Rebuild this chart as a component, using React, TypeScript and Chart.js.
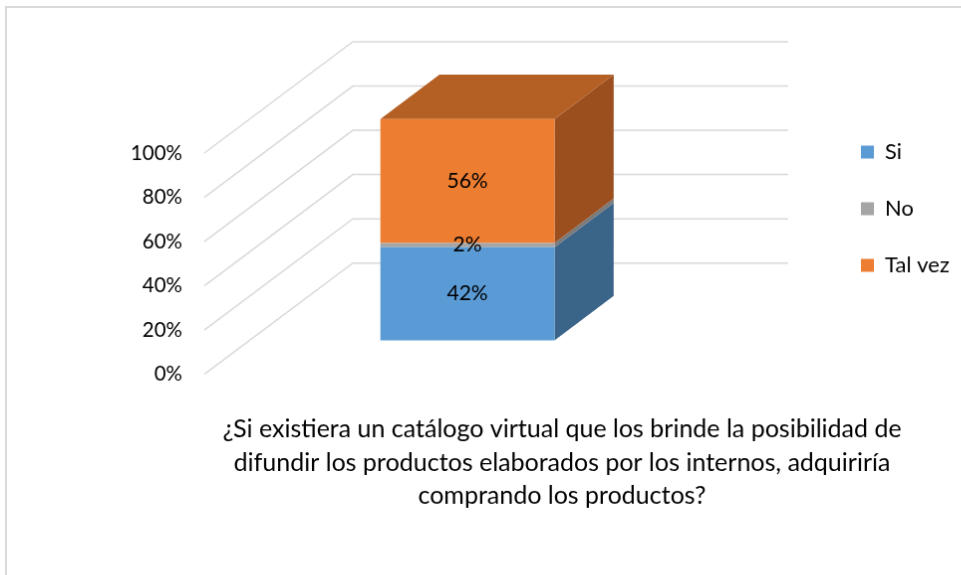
import React, { useEffect, useRef } from "react";
import { Chart, registerables } from "chart.js";

Chart.register(...registerables);

// ---- data ----
const categories = ["Adquiriría"];
const seriesNames = ["Si", "No", "Tal vez"];
const siValues = [42];
const noValues = [2];
const talVezValues = [56];
const yTickValues = [0, 20, 40, 60, 80, 100];
const titleLines = [
  "¿Si existiera un catálogo virtual que los brinde la posibilidad de",
  "difundir los productos elaborados por los internos, adquiriría",
  "comprando los productos?",
];

// ---- style ----
const FONT = "Lato";
const FRONT = ["#5B9BD5", "#A5A5A5", "#ED7D31"];
const SIDE = ["#3B6489", "#7A7A7A", "#9B4F1E"];
const TOP_FACE = "#B45F24";
const GRID = "#D9D9D9";
const DEPTH_X = 149;
const DEPTH_Y = -112;
const BAR_OFF_X = 45.6;
const BAR_OFF_Y = -34.3;
const BAR_DX = 59.3;
const BAR_DY = -44.6;
const CANVAS_W = 1114;
const CANVAS_H = 620;
const PLOT_TOP = 146;
const PLOT_BOTTOM = 368.7;
const LEGEND_X = 857;
const LEGEND_Y = 134;
const LEGEND_FONT = 22;
const TITLE_SIZE = 25;
const TITLE_LINE = 33.5;
const TITLE_FIRST_Y = 424;
const TITLE_PAD_TOP = TITLE_FIRST_Y - PLOT_BOTTOM - TITLE_LINE / 2;
const TITLE_PAD_BOTTOM = CANVAS_H - PLOT_BOTTOM - TITLE_PAD_TOP - 3 * TITLE_LINE;

const threeD = {
  id: "threeD",
  afterLayout(chart: any) {
    const lg = chart.legend;
    if (!lg) return;
    const pad = lg.options.labels.padding;
    lg.left = LEGEND_X - pad;
    lg.width = 220;
    lg.right = lg.left + 220;
    lg.top = LEGEND_Y - pad;
    lg.height = 320;
    lg.bottom = lg.top + 320;
  },
  beforeDatasetsDraw(chart: any) {
    const { ctx, chartArea } = chart;
    const y = chart.scales.y;
    ctx.save();
    ctx.strokeStyle = GRID;
    ctx.lineWidth = 1.5;
    y.ticks.forEach((t: any) => {
      const py = y.getPixelForValue(t.value);
      ctx.beginPath();
      ctx.moveTo(chartArea.left, py);
      ctx.lineTo(chartArea.left + DEPTH_X, py + DEPTH_Y);
      ctx.lineTo(chartArea.right + DEPTH_X, py + DEPTH_Y);
      ctx.stroke();
    });
    ctx.restore();

    ctx.save();
    ctx.translate(BAR_OFF_X, BAR_OFF_Y);
    const n = chart.data.datasets.length;
    for (let i = 0; i < n; i++) {
      const meta = chart.getDatasetMeta(i);
      meta.data.forEach((el: any) => {
        const { x, y: top, base, width } = el.getProps(["x", "y", "base", "width"], true);
        const r = x + width / 2;
        const l = x - width / 2;
        ctx.fillStyle = SIDE[i];
        ctx.beginPath();
        ctx.moveTo(r, top);
        ctx.lineTo(r + BAR_DX, top + BAR_DY);
        ctx.lineTo(r + BAR_DX, base + BAR_DY);
        ctx.lineTo(r, base);
        ctx.closePath();
        ctx.fill();
        if (i === n - 1) {
          ctx.fillStyle = TOP_FACE;
          ctx.beginPath();
          ctx.moveTo(l, top);
          ctx.lineTo(l + BAR_DX, top + BAR_DY);
          ctx.lineTo(r + BAR_DX, top + BAR_DY);
          ctx.lineTo(r, top);
          ctx.closePath();
          ctx.fill();
        }
      });
    }
  },
  afterDatasetsDraw(chart: any) {
    const { ctx } = chart;
    ctx.fillStyle = "#000";
    ctx.font = `21px ${FONT}`;
    ctx.textAlign = "center";
    ctx.textBaseline = "middle";
    chart.data.datasets.forEach((ds: any, i: number) => {
      const meta = chart.getDatasetMeta(i);
      meta.data.forEach((el: any, j: number) => {
        const { x, y: top, base } = el.getProps(["x", "y", "base"], true);
        ctx.fillText(`${ds.data[j]}%`, x, (top + base) / 2);
      });
    });
    ctx.restore();
  },
};

export default function App() {
  const ref = useRef<HTMLCanvasElement>(null);
  useEffect(() => {
    if (!ref.current) return;
    const series = [siValues, noValues, talVezValues];
    const chart = new Chart(ref.current, {
      type: "bar",
      data: {
        labels: categories,
        datasets: series.map((vals, i) => ({
          label: seriesNames[i],
          data: vals,
          backgroundColor: FRONT[i],
          borderWidth: 0,
          categoryPercentage: 1,
          barPercentage: 0.4,
          clip: false as any,
        })),
      },
      plugins: [threeD],
      options: {
        responsive: false,
        animation: false,
        devicePixelRatio: 1,
        layout: { padding: { top: PLOT_TOP, left: 0, right: 0, bottom: 0 } },
        scales: {
          x: { display: false, stacked: true },
          y: {
            stacked: true,
            min: 0,
            max: 100,
            afterBuildTicks: (s: any) => {
              s.ticks = yTickValues.map((v) => ({ value: v }));
            },
            afterFit: (s: any) => {
              s.width = 198;
            },
            grid: { display: false, drawTicks: false },
            border: { display: false },
            ticks: {
              padding: 22,
              color: "#000",
              font: { family: FONT, size: 20.5 },
              callback: (v: any) => `${v}%`,
            },
          },
          yRight: {
            type: "linear",
            position: "right",
            display: true,
            min: 0,
            max: 100,
            afterFit: (s: any) => {
              s.width = CANVAS_W - 635 - 1;
            },
            grid: { display: false, drawTicks: false },
            border: { display: false },
            ticks: { display: false },
          },
        },
        plugins: {
          tooltip: { enabled: false },
          legend: {
            position: "right",
            align: "start",
            maxWidth: 1,
            labels: {
              color: "#000",
              boxWidth: 13,
              boxHeight: 13,
              padding: 35,
              font: { family: FONT, size: LEGEND_FONT },
            },
          },
          title: {
            display: true,
            position: "bottom",
            text: titleLines,
            color: "#000",
            font: { family: FONT, size: TITLE_SIZE, weight: "normal", lineHeight: TITLE_LINE / TITLE_SIZE },
            padding: { top: TITLE_PAD_TOP, bottom: TITLE_PAD_BOTTOM },
          },
        },
      },
    });
    return () => chart.destroy();
  }, []);

  return (
    <div style={{ position: "absolute", left: 0, top: 0, width: 961, height: 575, overflow: "hidden", background: "#fff" }}>
      <canvas
        ref={ref}
        width={CANVAS_W}
        height={CANVAS_H}
        style={{ position: "absolute", left: 5, top: 6, width: CANVAS_W, height: CANVAS_H, border: "2px solid #D9D9D9" }}
      />
    </div>
  );
}
